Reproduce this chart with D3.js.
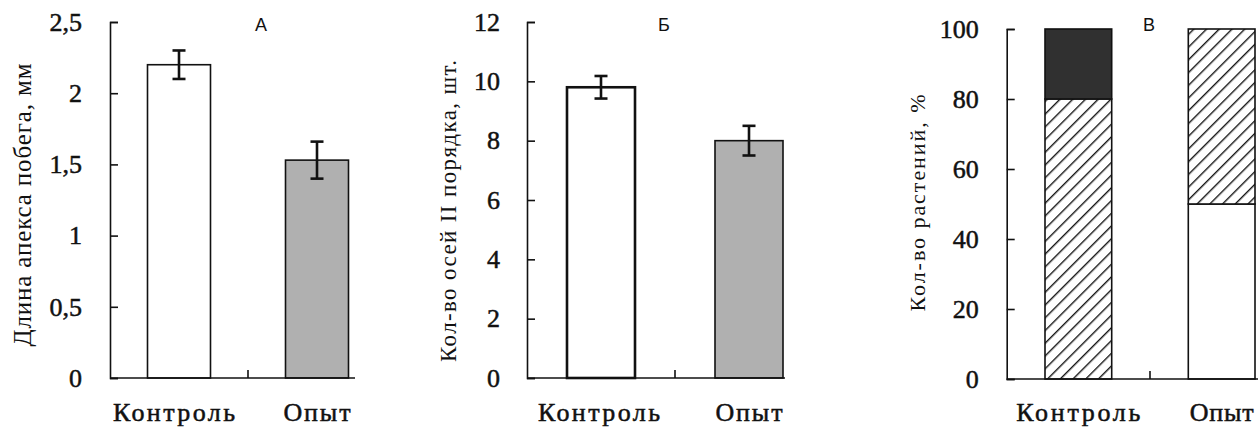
<!DOCTYPE html>
<html>
<head>
<meta charset="utf-8">
<script src="https://cdn.jsdelivr.net/npm/d3@7"></script>
<style>
  html, body { margin: 0; padding: 0; background: #fff; }
  svg { display: block; }
</style>
</head>
<body>
<svg id="chart" width="1258" height="428"></svg>
<script>
// ---------- data ----------
const categories = ["Контроль", "Опыт"];

const apexLength = [2.2, 1.53];
const apexError  = [0.1, 0.13];
const apexTicks  = [0, 0.5, 1, 1.5, 2, 2.5];

const axesCount = [9.8, 8.0];
const axesError = [0.38, 0.5];
const axesTicks = [0, 2, 4, 6, 8, 10, 12];

const stackKeys     = ["white", "hatched", "dark"];
const plantsWhite   = [0, 50];
const plantsHatched = [80, 50];
const plantsDark    = [20, 0];
const plantTicks    = [0, 20, 40, 60, 80, 100];

const panelTitles = ["А", "Б", "В"];
const yLabels = ["Длина апекса побега, мм", "Кол-во осей II порядка, шт.", "Кол-во растений, %"];

// ---------- drawing ----------
const SERIF = "Liberation Serif";
const SANS = "Liberation Sans";
const INK = "#111";
const svg = d3.select("#chart");
const defs = svg.append("defs");
const pat = defs.append("pattern")
  .attr("id", "hatch").attr("patternUnits", "userSpaceOnUse")
  .attr("width", 9).attr("height", 9)
  .attr("patternTransform", "rotate(45)");
pat.append("rect").attr("width", 9).attr("height", 9).attr("fill", "#fff");
pat.append("line").attr("x1", 0.7).attr("y1", 0).attr("x2", 0.7).attr("y2", 9)
  .attr("stroke", "#151515").attr("stroke-width", 1.4);

const fmt = d => String(d).replace(".", ",");

function heavy(sel, w) {
  return sel.attr("stroke", INK).attr("stroke-width", w).attr("paint-order", "stroke");
}

function axesFor(g, cfg, ticks, y, x) {
  const ya = d3.axisLeft(y).tickValues(ticks).tickFormat(fmt)
    .tickSizeInner(-8).tickSizeOuter(-8).tickPadding(cfg.tickPad);
  const yg = g.append("g").attr("transform", `translate(${cfg.x0},0)`).call(ya);
  yg.attr("font-family", SERIF).attr("font-size", 26);
  yg.select(".domain").attr("stroke", INK).attr("stroke-width", 1.6);
  yg.selectAll(".tick line").attr("stroke", INK).attr("stroke-width", 1.6);
  heavy(yg.selectAll(".tick text").attr("font-size", 26).attr("font-family", SERIF).attr("fill", INK), 0.5);

  // x axis baseline with tick between categories
  g.append("line").attr("x1", cfg.x0).attr("x2", cfg.xEnd)
    .attr("y1", y(0)).attr("y2", y(0)).attr("stroke", INK).attr("stroke-width", 1.6);
  const mid = cfg.x0 + x.step();
  g.append("line").attr("x1", mid).attr("x2", mid)
    .attr("y1", y(0)).attr("y2", y(0) - 8).attr("stroke", INK).attr("stroke-width", 1.6);

  // category labels
  heavy(g.selectAll(".cat").data(categories).join("text")
    .attr("x", (d, i) => x(d) + x.bandwidth() / 2 + cfg.catShift[i])
    .attr("y", 421).attr("text-anchor", "middle")
    .attr("font-size", 26).attr("font-family", SERIF).attr("fill", INK)
    .attr("textLength", (d, i) => cfg.catLen[i]).attr("lengthAdjust", "spacing")
    .text(d => d), 0.5);

  // y label
  g.append("text")
    .attr("transform", `translate(${cfg.labX},${cfg.labY}) rotate(-90)`)
    .attr("text-anchor", "middle").attr("dy", "0.35em")
    .attr("font-size", cfg.labSize).attr("font-family", SERIF).attr("fill", INK)
    .attr("textLength", cfg.labLen).attr("lengthAdjust", "spacing")
    .text(cfg.label);

  // panel title
  g.append("text")
    .attr("x", cfg.titleX).attr("y", 31).attr("text-anchor", "middle")
    .attr("font-size", 18).attr("font-family", SANS).attr("fill", INK)
    .text(cfg.title);
}

function barPanel(cfg, values, errors, ticks) {
  const g = svg.append("g");
  const y = d3.scaleLinear().domain([0, ticks[ticks.length - 1]]).range([cfg.yBase, cfg.yTop]);
  const x = d3.scaleBand().domain(categories).range([cfg.x0, cfg.x0 + 2 * cfg.band])
    .paddingInner(cfg.pad).paddingOuter(cfg.pad / 2);

  g.selectAll(".bar").data(values).join("rect")
    .attr("x", (d, i) => x(categories[i]))
    .attr("width", x.bandwidth())
    .attr("y", d => y(d))
    .attr("height", d => y(0) - y(d))
    .attr("fill", (d, i) => cfg.fills[i])
    .attr("stroke", INK)
    .attr("stroke-width", (d, i) => cfg.barStroke[i]);

  axesFor(g, cfg, ticks, y, x);

  values.forEach((d, i) => {
    const cx = x(categories[i]) + x.bandwidth() / 2;
    const s = g.append("g");
    const lo = y(d - errors[i]), hi = y(d + errors[i]);
    s.append("line").attr("x1", cx).attr("x2", cx).attr("y1", lo).attr("y2", hi)
      .attr("stroke", INK).attr("stroke-width", 2.6);
    [lo, hi].forEach(v => s.append("line").attr("x1", cx - 6.5).attr("x2", cx + 6.5)
      .attr("y1", v).attr("y2", v).attr("stroke", INK).attr("stroke-width", 2.6));
  });
}

// Panel А
barPanel({
  x0: 110, xEnd: 355, yBase: 378, yTop: 22, band: 138, pad: 0.5435,
  fills: ["#fff", "#b0b0b0"], barStroke: [1.6, 1.6], tickPad: 28,
  label: yLabels[0], labX: 22, labY: 205, labSize: 25, labLen: 283,
  title: panelTitles[0], titleX: 261, catLen: [122, 67], catShift: [-5, 0]
}, apexLength, apexError, apexTicks);

// Panel Б
barPanel({
  x0: 527, xEnd: 785, yBase: 378, yTop: 22, band: 148, pad: 0.5405,
  fills: ["#fff", "#b0b0b0"], barStroke: [2.6, 1.6], tickPad: 27,
  label: yLabels[1], labX: 448, labY: 211, labSize: 23, labLen: 302,
  title: panelTitles[1], titleX: 664, catLen: [122, 67], catShift: [-2, 0]
}, axesCount, axesError, axesTicks);

// Panel В (stacked)
(function () {
  const cfg = {
    x0: 1006.7, xEnd: 1258, yBase: 379, yTop: 29, band: 143.3, pad: 0.5345,
    tickPad: 28, label: yLabels[2], labX: 917, labY: 203, labSize: 22, labLen: 217,
    title: panelTitles[2], titleX: 1149, catLen: [124, 64], catShift: [0, 0]
  };
  const g = svg.append("g");
  const y = d3.scaleLinear().domain([0, 100]).range([cfg.yBase, cfg.yTop]);
  const x = d3.scaleBand().domain(categories).range([cfg.x0, cfg.x0 + 2 * cfg.band])
    .paddingInner(cfg.pad).paddingOuter(cfg.pad / 2);
  const rows = categories.map((c, i) => ({ cat: c, white: plantsWhite[i], hatched: plantsHatched[i], dark: plantsDark[i] }));
  const stacked = d3.stack().keys(stackKeys)(rows);
  const fillOf = { white: "#fff", hatched: "url(#hatch)", dark: "#303030" };
  stacked.forEach(layer => {
    g.selectAll(null).data(layer.filter(d => d[1] - d[0] > 0)).join("rect")
      .attr("x", d => x(d.data.cat))
      .attr("width", x.bandwidth())
      .attr("y", d => y(d[1]))
      .attr("height", d => y(d[0]) - y(d[1]))
      .attr("fill", fillOf[layer.key])
      .attr("stroke", INK).attr("stroke-width", 1.6);
  });
  axesFor(g, cfg, plantTicks, y, x);
})();
</script>
</body>
</html>
